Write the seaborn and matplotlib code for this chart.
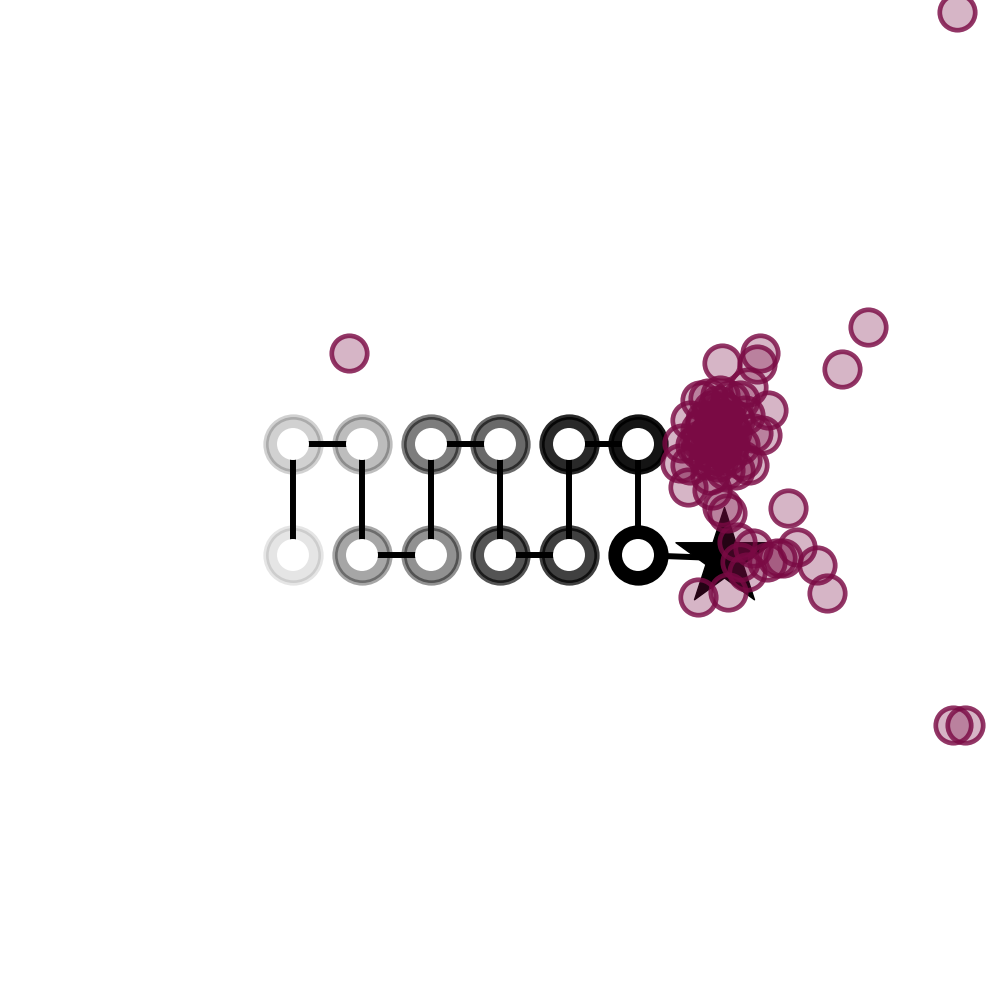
import numpy as np
import pandas as pd
import matplotlib
matplotlib.use("Agg")
import matplotlib.pyplot as plt
import seaborn as sns

# Path of visited grid cells (serpentine) and its end marker (star)
path_x = [0, 0, 1, 1, 2, 2, 3, 3, 4, 4, 5, 5]
path_y = [0, 1, 1, 0, 0, 1, 1, 0, 0, 1, 1, 0]
star_x = [6.25]
star_y = [-0.03]

# Sample points (maroon)
sample_x = [0.81, 7.96, 8.33, 9.62, 9.57, 9.74,
            6.22, 6.77, 6.72, 6.59, 6.88, 6.80, 6.67, 6.61, 5.72, 6.07, 6.22, 6.29, 7.17, 5.64, 5.61,
            6.07, 6.16, 6.26, 5.97, 6.12, 6.30, 5.90, 6.04, 6.19, 6.36, 5.97, 6.12, 6.26, 5.90, 6.07,
            6.22, 6.01, 6.16, 6.30, 6.48, 6.41, 6.19, 6.33,
            5.75, 5.83, 5.75, 6.55, 6.51, 5.90, 6.41, 6.04, 6.26, 6.01, 6.48,
            6.07, 6.16, 5.97, 6.22, 6.12, 6.33, 5.90, 6.26, 6.04, 6.19,
            6.43, 6.67, 7.01, 7.30, 7.59, 7.74, 5.87, 6.30, 6.58, 6.48, 6.87, 7.10]
sample_y = [1.82, 1.68, 2.05, 4.89, -1.53, -1.53,
            1.73, 1.82, 1.72, 1.51, 1.31, 1.08, 1.10, 0.81, 0.61, 0.59, 0.43, 0.38, 0.42, 1.01, 0.83,
            1.31, 1.35, 1.29, 1.22, 1.22, 1.20, 1.13, 1.11, 1.13, 1.11, 1.04, 1.02, 1.04, 0.95, 0.93,
            0.95, 0.86, 0.84, 0.90, 0.99, 1.22, 1.44, 1.40,
            1.22, 0.99, 0.81, 1.26, 0.86, 1.40, 0.77, 0.72, 0.77, 1.41, 1.40,
            1.13, 1.04, 1.17, 1.23, 0.90, 0.99, 1.04, 1.13, 0.99, 1.31,
            0.12, 0.06, -0.03, 0.07, -0.09, -0.34, -0.38, -0.33, -0.15, -0.06, -0.06, -0.03]

ring_alpha = [0.1, 0.18, 0.26, 0.35, 0.43, 0.51, 0.59, 0.67, 0.75, 0.84, 0.92, 1.0]

maroon = np.array([122, 10, 68]) / 255.0

fig = plt.figure(figsize=(10, 10), dpi=100)
ax = fig.add_axes([0, 0, 1, 1])

# grey rings
for xi, yi, a in zip(path_x, path_y, ring_alpha):
    sns.scatterplot(x=[xi], y=[yi], ax=ax, color="black", edgecolor="black",
                    alpha=a, s=1568, linewidth=3.8, marker="o", zorder=2, legend=False)

# connecting line (path + to the star)
line_df = pd.DataFrame({"x": path_x + star_x, "y": path_y + star_y,
                        "order": range(len(path_x) + 1)})
sns.lineplot(data=line_df, x="x", y="y", sort=False, estimator=None, color="black",
             linewidth=4.3, ax=ax, zorder=3, legend=False)

# white centres
sns.scatterplot(x=path_x, y=path_y, ax=ax, color="white", edgecolor="none",
                s=530, linewidth=0, marker="o", zorder=4, legend=False)

# star
sns.scatterplot(x=star_x, y=star_y, ax=ax, color="black", edgecolor="black",
                s=5400, linewidth=1, marker="*", zorder=5, legend=False)

# samples
sns.scatterplot(x=sample_x, y=sample_y, ax=ax,
                facecolor=(*maroon, 0.3), edgecolor=(*maroon, 0.82),
                s=650, linewidth=3.4, marker="o", zorder=6, legend=False)

ax.set_xlim(-4.246, 10.246)
ax.set_ylim(-4.009, 5.0)
ax.axis("off")

fig.savefig("out.png", dpi=100)
